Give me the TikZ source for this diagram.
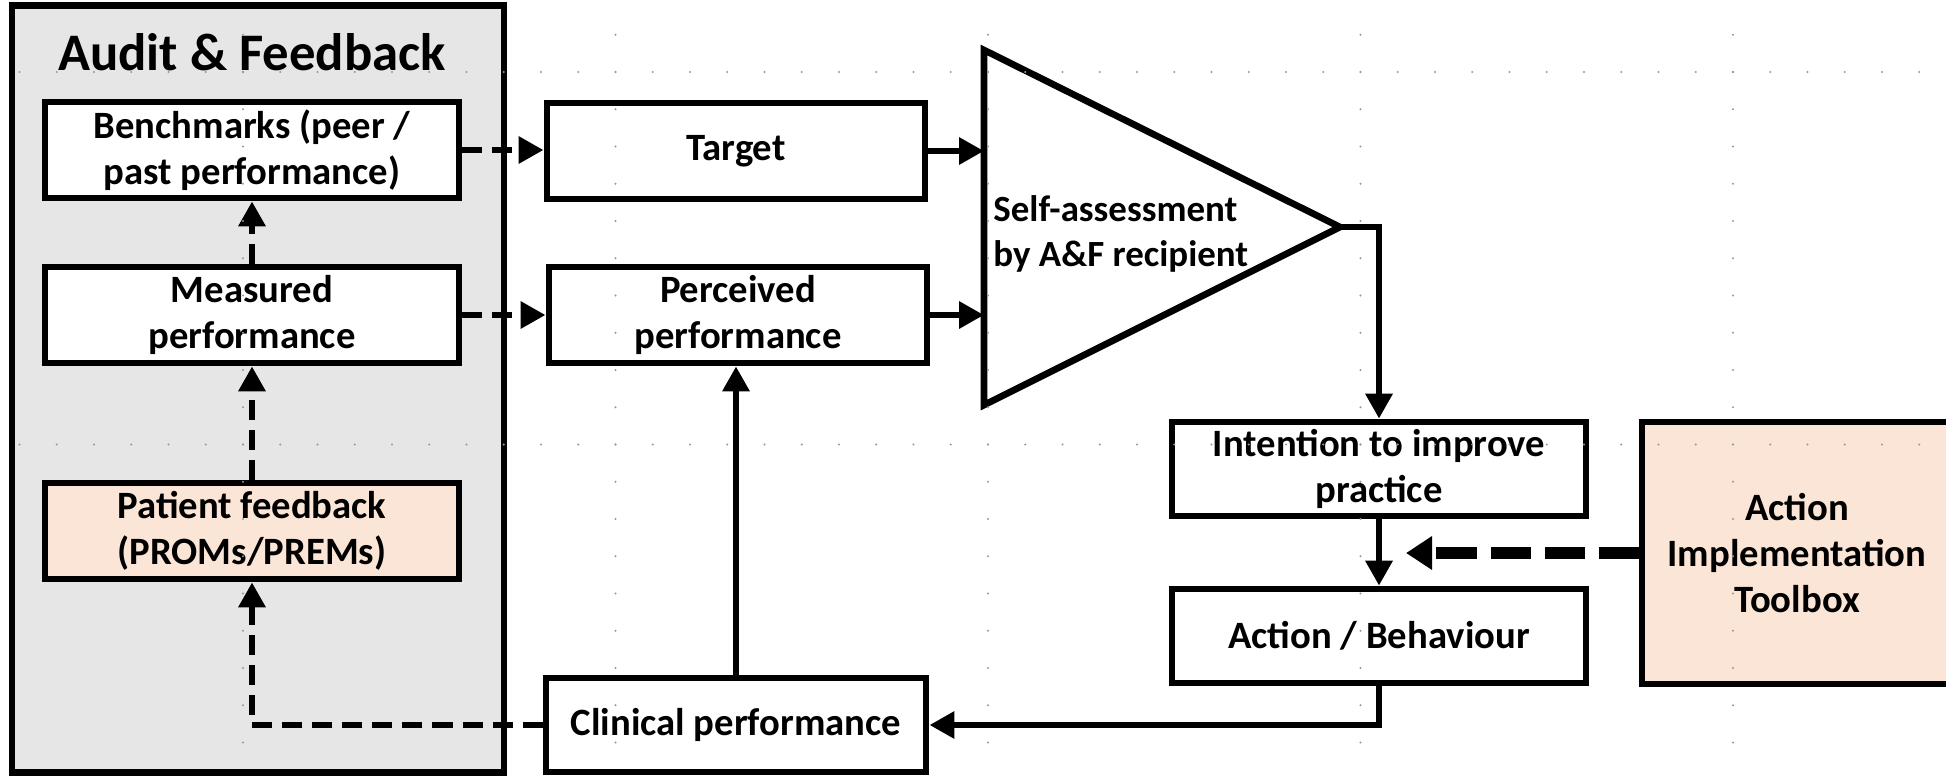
\documentclass[tikz,border=0pt]{standalone}
\usepackage{fontspec}
\setmainfont{Carlito}
\usetikzlibrary{positioning,arrows.meta}
\definecolor{panelgray}{RGB}{230,230,230}
\definecolor{peachfill}{RGB}{251,229,214}

\begin{document}
\begin{tikzpicture}[x=0.01cm,y=-0.01cm,font=\bfseries\fontsize{11}{13}\selectfont]
    \tikzstyle{box}=[draw,line width=1.9pt,fill=white,align=center,minimum width=4.14cm,minimum height=0.96cm,inner sep=2pt]
    \tikzstyle{peach}=[fill=peachfill]
    \tikzstyle{edge}=[line width=1.8pt,-{Triangle[length=0.25cm,width=0.26cm]}]
    \tikzstyle{dashedge}=[edge,dash pattern=on 0.2cm off 0.1cm]
    \tikzstyle{bigdash}=[line width=0.12cm,dash pattern=on 0.4cm off 0.14cm,-{Triangle[length=0.26cm,width=0.32cm]}]
    \tikzstyle{guide}=[fill=black!40]

    \useasboundingbox (0,0) rectangle (1946,775);

    % audit & feedback panel
    \node[draw,line width=1.9pt,fill=panelgray,minimum width=4.92cm,minimum height=7.66cm] (panel) at (258,389) {};
    \node[font=\bfseries\fontsize{15}{18}\selectfont] (title) at (252,52) {Audit \& Feedback};

    \node[box] (bench) at (252,150) {Benchmarks (peer /\\past performance)};
    \node[box] (measured) at (252,315) {Measured\\performance};
    \node[box,peach] (patient) at (252,531) {Patient feedback\\(PROMs/PREMs)};

    % middle column
    \node[box,minimum width=3.78cm] (target) at (736,151) {Target};
    \node[box,minimum width=3.78cm] (perceived) at (738,315) {Perceived\\performance};
    \node[box,minimum width=3.8cm,minimum height=0.94cm] (clinical) at (736,725) {Clinical performance};

    % self-assessment
    \coordinate (triT) at (984,50);
    \coordinate (triB) at (984,405);
    \coordinate (triA) at (1340,227);
    \draw[line width=1.9pt,line join=miter] (triT) -- (triA) -- (triB) -- cycle;
    \node[anchor=west,align=left,font=\bfseries\fontsize{10.5}{13}\selectfont] (selfass) at (981,234) {Self-assessment\\by A\&F recipient};

    % right side
    \node[box,minimum height=0.94cm] (intention) at (1379,469) {Intention to improve\\practice};
    \node[box,minimum height=0.94cm] (action) at (1379,636) {Action / Behaviour};
    \node[box,peach,minimum width=3.1cm,minimum height=2.62cm] (toolbox) at (1797,553) {Action\\Implementation\\Toolbox};
    \coordinate (toolTip) at (1406,553);

    \draw[dashedge] (bench.east) -- (bench.east -| target.west);
    \draw[dashedge] (measured) -- (perceived);
    \draw[dashedge] (measured) -- (bench);
    \draw[dashedge] (patient) -- (measured);
    \draw[dashedge] (clinical.west) -| (patient.south);
    \draw[edge] (clinical.north) -- (clinical.north |- perceived.south);
    \draw[edge] (target) -- (target -| triT);
    \draw[edge] (perceived) -- (perceived -| triT);
    \draw[edge] (triA) -| (intention.north);
    \draw[edge] (intention) -- (action);
    \draw[edge] (action.south) |- (clinical.east);
    \draw[bigdash] (toolbox.west) -- (toolTip);

    % guide dots
    \foreach \gx in {243,615.5,988,1360.5,1733}
        \foreach \k in {-1,...,18}
            \fill[guide] (\gx,{72+\k*37.25}) circle[radius=0.012cm];
    \foreach \gy in {72,444.5}
        \foreach \k in {-6,...,45}
            \fill[guide] ({243+\k*37.25},\gy) circle[radius=0.012cm];
\end{tikzpicture}
\end{document}
